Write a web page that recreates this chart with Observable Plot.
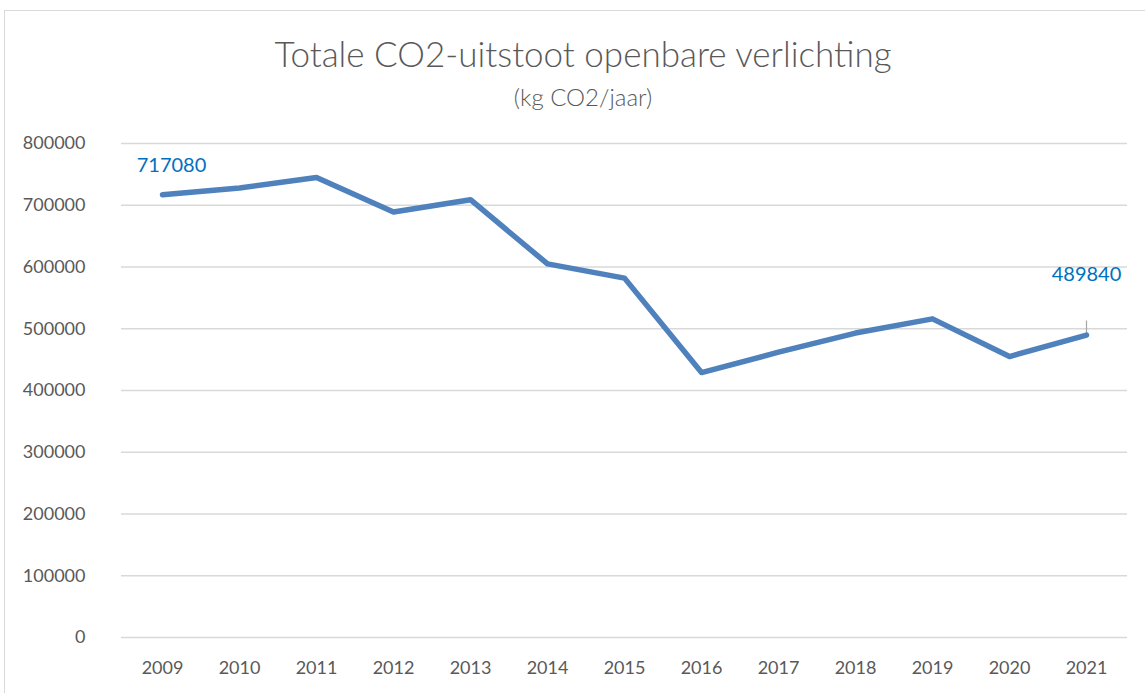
<!DOCTYPE html>
<html>
<head>
<meta charset="utf-8">
<script src="https://cdn.jsdelivr.net/npm/d3@7"></script>
<script src="https://cdn.jsdelivr.net/npm/@observablehq/plot@0.6"></script>
<style>
  html, body { margin: 0; padding: 0; background: #fff; }
  #wrap { position: relative; width: 1145px; height: 693px; overflow: hidden; font-family: Lato, "Open Sans", sans-serif; }
  #frame { position: absolute; left: 4px; top: 10px; width: 1160px; height: 700px; border: 1px solid #d9d9d9; box-sizing: border-box; }
  #title { position: absolute; left: 0; width: 1166px; top: 32px; text-align: center; font-size: 35px; color: #595959; font-weight: 300; white-space: nowrap; }
  #subtitle { position: absolute; left: 0; width: 1166px; top: 82px; text-align: center; font-size: 24px; color: #595959; font-weight: 300; white-space: nowrap; }
  #chart { position: absolute; left: 0; top: 120px; }
</style>
</head>
<body>
<div id="wrap">
  <div id="frame"></div>
  <div id="title">Totale CO2-uitstoot openbare verlichting</div>
  <div id="subtitle">(kg CO2/jaar)</div>
  <div id="chart"></div>
</div>
<script>
const years = ["2009","2010","2011","2012","2013","2014","2015","2016","2017","2018","2019","2020","2021"];
const emissions = [717080, 728000, 745000, 689000, 709000, 605000, 582000, 429000, 462000, 493000, 516000, 455000, 489840];
const yTicks = [0, 100000, 200000, 300000, 400000, 500000, 600000, 700000, 800000];
const labelledYears = ["2009", "2021"];

const data = years.map((y, i) => ({year: y, value: emissions[i]}));
const firstLabel = data.filter(d => d.year === labelledYears[0]);
const lastLabel = data.filter(d => d.year === labelledYears[1]);

const chart = Plot.plot({
  width: 1145,
  height: 573,
  marginLeft: 121,
  marginRight: 18,
  marginTop: 23,
  marginBottom: 56,
  style: {fontFamily: "Lato, 'Open Sans', sans-serif", fontSize: "18px", color: "#595959", background: "transparent"},
  x: {type: "point", domain: years, padding: 0.5, label: null},
  y: {domain: [0, 800000], ticks: yTicks, label: null},
  marks: [
    Plot.ruleY(yTicks, {stroke: "#d9d9d9", strokeWidth: 1.5}),
    Plot.axisY({ticks: yTicks, tickSize: 0, tickPadding: 36, tickFormat: d => String(d), label: null, fill: "#595959"}),
    Plot.axisX({tickSize: 0, tickPadding: 24, label: null, fill: "#595959"}),
    Plot.ruleX(lastLabel, {x: "year", y1: "value", y2: "value", insetTop: 0, insetBottom: 14, stroke: "#a6a6a6", strokeWidth: 1.2}),
    Plot.line(data, {x: "year", y: "value", stroke: "#4f81bd", strokeWidth: 5.5, strokeLinejoin: "round", strokeLinecap: "round"}),
    Plot.text(firstLabel, {x: "year", y: "value", text: d => String(d.value), dx: 9, dy: -29, fill: "#0070c0", fontSize: 20}),
    Plot.text(lastLabel, {x: "year", y: "value", text: d => String(d.value), dx: 0, dy: -60, fill: "#0070c0", fontSize: 20})
  ]
});
document.getElementById("chart").appendChild(chart);
</script>
</body>
</html>
